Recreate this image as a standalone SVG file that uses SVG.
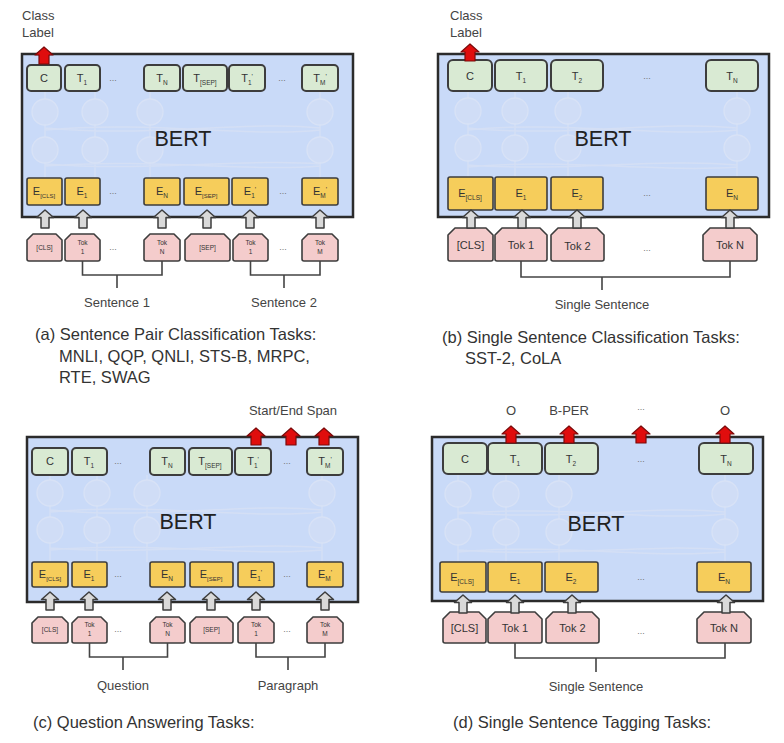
<svg xmlns="http://www.w3.org/2000/svg" xmlns:xlink="http://www.w3.org/1999/xlink" width="784" height="743" viewBox="0 0 784 743">
<style>
text{font-family:"Liberation Sans",Arial,sans-serif;fill:#333}
.bert{fill:#c9daf8;stroke:#2b2b2b;stroke-width:2.5}
.t{fill:#d9ead3;stroke:#3d3d3d;stroke-width:2}
.e{fill:#f6cd5b;stroke:#3d3d3d;stroke-width:1.6}
.k{fill:#f4cccc;stroke:#3d3d3d;stroke-width:1.6;stroke-linejoin:round}
.lbl{font-size:11px;text-anchor:middle}
.sm{font-size:6.5px;text-anchor:middle}
.dots{font-size:9px;text-anchor:middle;fill:#777}
.bt{font-size:21.5px;text-anchor:middle;fill:#222}
.cap{font-size:16.5px;fill:#333}
.note{font-size:13px;fill:#444}
.mid{text-anchor:middle}
.br{fill:none;stroke:#444;stroke-width:1.6}
.net{fill:#d0ddf6;stroke:#d8e2f6;stroke-width:1.3}
.nl{fill:none;stroke:#d4dff5;stroke-width:1.5}
</style>
<defs>
<path id="ga" d="M0,0 L8.5,7.5 L4,7.5 L4,18 L-4,18 L-4,7.5 L-8.5,7.5 Z" fill="#d9d9d9" stroke="#3d3d3d" stroke-width="1.5" stroke-linejoin="round"/>
<path id="ra" d="M0,0 L9,8 L5,8 L5,17 L-5,17 L-5,8 L-9,8 Z" fill="#e00d0d" stroke="#7a0a0a" stroke-width="1.2" stroke-linejoin="round"/>
</defs>

<!-- ================= Panel (a) ================= -->
<g id="a-bert">
<rect class="bert" x="22" y="54" width="331" height="163"/>
<g>
<path class="nl" d="M45,91 V178 M95,91 V178 M150,91 V178 M320,91 V178 M45,128 C150,138 250,120 320,128 M45,130 C150,120 250,138 320,130 M45,164 C150,172 250,158 320,164 M45,166 C150,158 250,172 320,166"/>
<circle class="net" cx="45" cy="112" r="13"/><circle class="net" cx="95" cy="112" r="13"/><circle class="net" cx="150" cy="112" r="13"/><circle class="net" cx="320" cy="112" r="13"/>
<circle class="net" cx="45" cy="150" r="13"/><circle class="net" cx="95" cy="150" r="13"/><circle class="net" cx="150" cy="150" r="13"/><circle class="net" cx="320" cy="150" r="13"/>
</g>
<text class="bt" x="183" y="146">BERT</text>
</g>
<g id="a-C"><rect class="t" x="27" y="65" width="34" height="26" rx="4"/><text class="lbl" x="44" y="82">C</text></g>
<g id="a-T1"><rect class="t" x="65" y="65" width="35" height="26" rx="4"/><text class="lbl" x="82" y="82">T<tspan font-size="6.5" dy="3">1</tspan></text></g>
<text class="dots" x="113" y="81">...</text>
<g id="a-TN"><rect class="t" x="144" y="65" width="36" height="26" rx="4"/><text class="lbl" x="162" y="82">T<tspan font-size="6.5" dy="3">N</tspan></text></g>
<g id="a-TSEP"><rect class="t" x="183" y="65" width="44" height="26" rx="4"/><text class="lbl" x="205" y="82">T<tspan font-size="6.5" dy="3">[SEP]</tspan></text></g>
<g id="a-T1p"><rect class="t" x="229" y="65" width="36" height="26" rx="4"/><text class="lbl" x="247" y="82">T<tspan font-size="6.5" dy="3">1</tspan><tspan font-size="7" dy="-6">'</tspan></text></g>
<text class="dots" x="282" y="81">...</text>
<g id="a-TMp"><rect class="t" x="302" y="65" width="36" height="26" rx="4"/><text class="lbl" x="320" y="82">T<tspan font-size="6.5" dy="3">M</tspan><tspan font-size="7" dy="-6">'</tspan></text></g>

<g id="a-ECLS"><rect class="e" x="27" y="178" width="35" height="27" rx="2"/><text class="lbl" x="44" y="195">E<tspan font-size="6" dy="3">[CLS]</tspan></text></g>
<g id="a-E1"><rect class="e" x="65" y="178" width="35" height="27" rx="2"/><text class="lbl" x="82" y="195">E<tspan font-size="6.5" dy="3">1</tspan></text></g>
<text class="dots" x="113" y="194">...</text>
<g id="a-EN"><rect class="e" x="144" y="178" width="36" height="27" rx="2"/><text class="lbl" x="162" y="195">E<tspan font-size="6.5" dy="3">N</tspan></text></g>
<g id="a-ESEP"><rect class="e" x="184" y="178" width="45" height="27" rx="2"/><text class="lbl" x="206" y="195">E<tspan font-size="6" dy="3">[SEP]</tspan></text></g>
<g id="a-E1p"><rect class="e" x="232" y="178" width="36" height="27" rx="2"/><text class="lbl" x="250" y="195">E<tspan font-size="6.5" dy="3">1</tspan><tspan font-size="7" dy="-6">'</tspan></text></g>
<text class="dots" x="283" y="194">...</text>
<g id="a-EMp"><rect class="e" x="302" y="178" width="36" height="27" rx="2"/><text class="lbl" x="320" y="195">E<tspan font-size="6.5" dy="3">M</tspan><tspan font-size="7" dy="-6">'</tspan></text></g>

<g id="a-kCLS"><path class="k" d="M27,240 L33,234 H56 L62,240 V259 Q62,261 60,261 H29 Q27,261 27,259 Z"/><text class="sm" x="44.5" y="250">[CLS]</text></g>
<g id="a-k1"><path class="k" d="M65,240 L71,234 H94 L100,240 V259 Q100,261 98,261 H67 Q65,261 65,259 Z"/><text class="sm" x="82.5" y="245">Tok</text><text class="sm" x="82.5" y="254">1</text></g>
<text class="dots" x="113" y="250">...</text>
<g id="a-kN"><path class="k" d="M144,240 L150,234 H174 L180,240 V259 Q180,261 178,261 H146 Q144,261 144,259 Z"/><text class="sm" x="162" y="245">Tok</text><text class="sm" x="162" y="254">N</text></g>
<g id="a-kSEP"><path class="k" d="M185,240 L191,234 H224 L230,240 V259 Q230,261 228,261 H187 Q185,261 185,259 Z"/><text class="sm" x="207.5" y="250">[SEP]</text></g>
<g id="a-k1p"><path class="k" d="M233,240 L239,234 H262 L268,240 V259 Q268,261 266,261 H235 Q233,261 233,259 Z"/><text class="sm" x="250.5" y="245">Tok</text><text class="sm" x="250.5" y="254">1</text></g>
<text class="dots" x="283" y="250">...</text>
<g id="a-kM"><path class="k" d="M302,240 L308,234 H332 L338,240 V259 Q338,261 336,261 H304 Q302,261 302,259 Z"/><text class="sm" x="320" y="245">Tok</text><text class="sm" x="320" y="254">M</text></g>

<g id="a-labels">
<text class="note" x="22" y="20">Class</text>
<text class="note" x="22" y="37">Label</text>
<text class="note mid" x="117" y="307">Sentence 1</text>
<text class="note mid" x="284" y="307">Sentence 2</text>
<text class="cap" x="35" y="340">(a) Sentence Pair Classification Tasks:</text>
<text class="cap" x="59" y="362">MNLI, QQP, QNLI, STS-B, MRPC,</text>
<text class="cap" x="59" y="383">RTE, SWAG</text>
</g>

<!-- ================= Panel (b) ================= -->
<g id="b-bert">
<rect class="bert" x="438" y="54" width="331" height="163"/>
<g>
<path class="nl" d="M468,91 V177 M515,91 V177 M568,91 V177 M737,91 V177 M468,128 C560,138 660,120 737,128 M468,130 C560,120 660,138 737,130 M468,165 C560,172 660,158 737,165 M468,167 C560,158 660,173 737,167"/>
<circle class="net" cx="468" cy="111" r="13"/><circle class="net" cx="515" cy="111" r="13"/><circle class="net" cx="568" cy="111" r="13"/><circle class="net" cx="737" cy="111" r="13"/>
<circle class="net" cx="468" cy="148" r="13"/><circle class="net" cx="515" cy="148" r="13"/><circle class="net" cx="568" cy="148" r="13"/><circle class="net" cx="737" cy="148" r="13"/>
</g>
<text class="bt" x="603" y="146">BERT</text>
</g>
<g id="b-C"><rect class="t" x="448" y="60" width="44" height="31" rx="5"/><text class="lbl" x="470" y="80">C</text></g>
<g id="b-T1"><rect class="t" x="495" y="60" width="52" height="31" rx="5"/><text class="lbl" x="521" y="80">T<tspan font-size="6.5" dy="3">1</tspan></text></g>
<g id="b-T2"><rect class="t" x="551" y="60" width="52" height="31" rx="5"/><text class="lbl" x="577" y="80">T<tspan font-size="6.5" dy="3">2</tspan></text></g>
<text class="dots" x="647" y="79">...</text>
<g id="b-TN"><rect class="t" x="706" y="60" width="52" height="31" rx="5"/><text class="lbl" x="732" y="80">T<tspan font-size="6.5" dy="3">N</tspan></text></g>

<g id="b-ECLS"><rect class="e" x="448" y="177" width="45" height="33" rx="2"/><text class="lbl" x="470" y="197">E<tspan font-size="6.5" dy="3">[CLS]</tspan></text></g>
<g id="b-E1"><rect class="e" x="495" y="177" width="52" height="33" rx="2"/><text class="lbl" x="521" y="197">E<tspan font-size="6.5" dy="3">1</tspan></text></g>
<g id="b-E2"><rect class="e" x="551" y="177" width="52" height="33" rx="2"/><text class="lbl" x="577" y="197">E<tspan font-size="6.5" dy="3">2</tspan></text></g>
<text class="dots" x="647" y="196">...</text>
<g id="b-EN"><rect class="e" x="706" y="177" width="52" height="33" rx="2"/><text class="lbl" x="732" y="197">E<tspan font-size="6.5" dy="3">N</tspan></text></g>

<g id="b-kCLS"><path class="k" d="M448,235 L455,228 H486 L493,235 V259 Q493,261 491,261 H450 Q448,261 448,259 Z"/><text class="lbl" x="470.5" y="249" font-size="10">[CLS]</text></g>
<g id="b-k1"><path class="k" d="M495,235 L502,228 H540 L547,235 V259 Q547,261 545,261 H497 Q495,261 495,259 Z"/><text class="lbl" x="521" y="249">Tok 1</text></g>
<g id="b-k2"><path class="k" d="M551,235 L558,228 H597 L604,235 V259 Q604,261 602,261 H553 Q551,261 551,259 Z"/><text class="lbl" x="577.5" y="250">Tok 2</text></g>
<text class="dots" x="647" y="251">...</text>
<g id="b-kN"><path class="k" d="M703,235 L710,228 H750 L757,235 V259 Q757,261 755,261 H705 Q703,261 703,259 Z"/><text class="lbl" x="730" y="249">Tok N</text></g>

<g id="b-labels">
<text class="note" x="450" y="20">Class</text>
<text class="note" x="450" y="37">Label</text>
<text class="note mid" x="602" y="309">Single Sentence</text>
<text class="cap" x="442" y="343">(b) Single Sentence Classification Tasks:</text>
<text class="cap" x="465" y="364">SST-2, CoLA</text>
</g>

<!-- ================= Panel (c) ================= -->
<g id="c-bert">
<rect class="bert" x="27" y="437" width="331" height="165"/>
<g>
<path class="nl" d="M50,475 V562 M97,475 V562 M147,475 V562 M322,475 V562 M50,510 C150,520 250,502 322,510 M50,512 C150,502 250,520 322,512 M50,548 C150,556 250,541 322,548 M50,550 C150,541 250,557 322,550"/>
<circle class="net" cx="50" cy="493" r="13"/><circle class="net" cx="97" cy="493" r="13"/><circle class="net" cx="147" cy="493" r="13"/><circle class="net" cx="322" cy="493" r="13"/>
<circle class="net" cx="50" cy="530" r="13"/><circle class="net" cx="97" cy="530" r="13"/><circle class="net" cx="147" cy="530" r="13"/><circle class="net" cx="322" cy="530" r="13"/>
</g>
<text class="bt" x="188" y="529">BERT</text>
</g>
<g id="c-C"><rect class="t" x="32" y="448" width="36" height="27" rx="4"/><text class="lbl" x="50" y="465">C</text></g>
<g id="c-T1"><rect class="t" x="72" y="448" width="35" height="27" rx="4"/><text class="lbl" x="89" y="465">T<tspan font-size="6.5" dy="3">1</tspan></text></g>
<text class="dots" x="118" y="464">...</text>
<g id="c-TN"><rect class="t" x="150" y="448" width="35" height="27" rx="4"/><text class="lbl" x="167" y="465">T<tspan font-size="6.5" dy="3">N</tspan></text></g>
<g id="c-TSEP"><rect class="t" x="189" y="448" width="43" height="27" rx="4"/><text class="lbl" x="210" y="465">T<tspan font-size="6.5" dy="3">[SEP]</tspan></text></g>
<g id="c-T1p"><rect class="t" x="235" y="448" width="36" height="27" rx="4"/><text class="lbl" x="253" y="465">T<tspan font-size="6.5" dy="3">1</tspan><tspan font-size="7" dy="-6">'</tspan></text></g>
<text class="dots" x="287" y="464">...</text>
<g id="c-TMp"><rect class="t" x="307" y="448" width="36" height="27" rx="4"/><text class="lbl" x="325" y="465">T<tspan font-size="6.5" dy="3">M</tspan><tspan font-size="7" dy="-6">'</tspan></text></g>

<g id="c-ECLS"><rect class="e" x="32" y="562" width="36" height="25" rx="2"/><text class="lbl" x="50" y="578">E<tspan font-size="6" dy="3">[CLS]</tspan></text></g>
<g id="c-E1"><rect class="e" x="72" y="562" width="35" height="25" rx="2"/><text class="lbl" x="89" y="578">E<tspan font-size="6.5" dy="3">1</tspan></text></g>
<text class="dots" x="118" y="577">...</text>
<g id="c-EN"><rect class="e" x="150" y="562" width="35" height="25" rx="2"/><text class="lbl" x="167" y="578">E<tspan font-size="6.5" dy="3">N</tspan></text></g>
<g id="c-ESEP"><rect class="e" x="190" y="562" width="43" height="25" rx="2"/><text class="lbl" x="211" y="578">E<tspan font-size="6" dy="3">[SEP]</tspan></text></g>
<g id="c-E1p"><rect class="e" x="238" y="562" width="36" height="25" rx="2"/><text class="lbl" x="256" y="578">E<tspan font-size="6.5" dy="3">1</tspan><tspan font-size="7" dy="-6">'</tspan></text></g>
<text class="dots" x="287" y="577">...</text>
<g id="c-EMp"><rect class="e" x="307" y="562" width="36" height="25" rx="2"/><text class="lbl" x="325" y="578">E<tspan font-size="6.5" dy="3">M</tspan><tspan font-size="7" dy="-6">'</tspan></text></g>

<g id="c-kCLS"><path class="k" d="M32,623 L38,617 H62 L68,623 V641 Q68,643 66,643 H34 Q32,643 32,641 Z"/><text class="sm" x="50" y="632">[CLS]</text></g>
<g id="c-k1"><path class="k" d="M72,623 L78,617 H101 L107,623 V641 Q107,643 105,643 H74 Q72,643 72,641 Z"/><text class="sm" x="89.5" y="627">Tok</text><text class="sm" x="89.5" y="636">1</text></g>
<text class="dots" x="118" y="632">...</text>
<g id="c-kN"><path class="k" d="M150,623 L156,617 H179 L185,623 V641 Q185,643 183,643 H152 Q150,643 150,641 Z"/><text class="sm" x="167.5" y="627">Tok</text><text class="sm" x="167.5" y="636">N</text></g>
<g id="c-kSEP"><path class="k" d="M190,623 L196,617 H227 L233,623 V641 Q233,643 231,643 H192 Q190,643 190,641 Z"/><text class="sm" x="211.5" y="632">[SEP]</text></g>
<g id="c-k1p"><path class="k" d="M238,623 L244,617 H268 L274,623 V641 Q274,643 272,643 H240 Q238,643 238,641 Z"/><text class="sm" x="256" y="627">Tok</text><text class="sm" x="256" y="636">1</text></g>
<text class="dots" x="287" y="632">...</text>
<g id="c-kM"><path class="k" d="M307,623 L313,617 H337 L343,623 V641 Q343,643 341,643 H309 Q307,643 307,641 Z"/><text class="sm" x="325" y="627">Tok</text><text class="sm" x="325" y="636">M</text></g>

<g id="c-labels">
<text class="note mid" x="293" y="415">Start/End Span</text>
<text class="note mid" x="123" y="690">Question</text>
<text class="note mid" x="288" y="690">Paragraph</text>
<text class="cap" x="33" y="728">(c) Question Answering Tasks:</text>
</g>

<!-- ================= Panel (d) ================= -->
<g id="d-bert">
<rect class="bert" x="432" y="437" width="331" height="164"/>
<g>
<path class="nl" d="M458,474 V562 M506,474 V562 M559,474 V562 M725,474 V562 M458,512 C560,522 650,504 725,512 M458,514 C560,504 650,522 725,514 M458,550 C560,558 650,543 725,550 M458,552 C560,543 650,559 725,552"/>
<circle class="net" cx="458" cy="494" r="13"/><circle class="net" cx="506" cy="494" r="13"/><circle class="net" cx="559" cy="494" r="13"/><circle class="net" cx="725" cy="494" r="13"/>
<circle class="net" cx="458" cy="532" r="13"/><circle class="net" cx="506" cy="532" r="13"/><circle class="net" cx="559" cy="532" r="13"/><circle class="net" cx="725" cy="532" r="13"/>
</g>
<text class="bt" x="596" y="531">BERT</text>
</g>
<g id="d-C"><rect class="t" x="443" y="443" width="44" height="31" rx="5"/><text class="lbl" x="465" y="463">C</text></g>
<g id="d-T1"><rect class="t" x="488" y="443" width="54" height="31" rx="5"/><text class="lbl" x="515" y="463">T<tspan font-size="6.5" dy="3">1</tspan></text></g>
<g id="d-T2"><rect class="t" x="545" y="443" width="53" height="31" rx="5"/><text class="lbl" x="571" y="463">T<tspan font-size="6.5" dy="3">2</tspan></text></g>
<text class="dots" x="641" y="462">...</text>
<g id="d-TN"><rect class="t" x="699" y="443" width="54" height="31" rx="5"/><text class="lbl" x="726" y="463">T<tspan font-size="6.5" dy="3">N</tspan></text></g>

<g id="d-ECLS"><rect class="e" x="440" y="562" width="46" height="30" rx="2"/><text class="lbl" x="462" y="581">E<tspan font-size="6.5" dy="3">[CLS]</tspan></text></g>
<g id="d-E1"><rect class="e" x="488" y="562" width="54" height="30" rx="2"/><text class="lbl" x="515" y="581">E<tspan font-size="6.5" dy="3">1</tspan></text></g>
<g id="d-E2"><rect class="e" x="545" y="562" width="53" height="30" rx="2"/><text class="lbl" x="571" y="581">E<tspan font-size="6.5" dy="3">2</tspan></text></g>
<text class="dots" x="641" y="580">...</text>
<g id="d-EN"><rect class="e" x="697" y="562" width="54" height="30" rx="2"/><text class="lbl" x="724" y="581">E<tspan font-size="6.5" dy="3">N</tspan></text></g>

<g id="d-kCLS"><path class="k" d="M443,619 L450,612 H479 L486,619 V641 Q486,643 484,643 H445 Q443,643 443,641 Z"/><text class="lbl" x="464.5" y="632" font-size="10">[CLS]</text></g>
<g id="d-k1"><path class="k" d="M488,619 L495,612 H535 L542,619 V641 Q542,643 540,643 H490 Q488,643 488,641 Z"/><text class="lbl" x="515" y="632">Tok 1</text></g>
<g id="d-k2"><path class="k" d="M546,619 L553,612 H592 L599,619 V641 Q599,643 597,643 H548 Q546,643 546,641 Z"/><text class="lbl" x="572.5" y="632">Tok 2</text></g>
<text class="dots" x="641" y="634">...</text>
<g id="d-kN"><path class="k" d="M697,619 L704,612 H744 L751,619 V641 Q751,643 749,643 H699 Q697,643 697,641 Z"/><text class="lbl" x="724" y="632">Tok N</text></g>

<g id="d-labels">
<text class="note mid" x="511" y="415">O</text>
<text class="note mid" x="569" y="415">B-PER</text>
<text class="dots" x="641" y="410">...</text>
<text class="note mid" x="725" y="415">O</text>
<text class="note mid" x="596" y="691">Single Sentence</text>
<text class="cap" x="453" y="728">(d) Single Sentence Tagging Tasks:</text>
</g>

<!-- ================= Connectors ================= -->
<g id="connectors">
<!-- panel a -->
<use href="#ra" x="44" y="47"/>
<use href="#ga" x="45" y="210"/><use href="#ga" x="83" y="210"/><use href="#ga" x="162" y="210"/><use href="#ga" x="207" y="210"/><use href="#ga" x="250" y="210"/><use href="#ga" x="320" y="210"/>
<path class="br" d="M82.5,261 V275 H162 V261 M117,275 V288"/>
<path class="br" d="M250.5,261 V275 H320 V261 M284,275 V288"/>
<!-- panel b -->
<use href="#ra" x="470" y="44"/>
<use href="#ga" x="471" y="210"/><use href="#ga" x="522" y="210"/><use href="#ga" x="577" y="210"/><use href="#ga" x="730" y="210"/>
<path class="br" d="M521,261 V277 H730 V261 M602,277 V290"/>
<!-- panel c -->
<use href="#ra" x="256" y="428"/><use href="#ra" x="291" y="428"/><use href="#ra" x="324" y="428"/>
<use href="#ga" x="50" y="592"/><use href="#ga" x="89" y="592"/><use href="#ga" x="167" y="592"/><use href="#ga" x="211" y="592"/><use href="#ga" x="256" y="592"/><use href="#ga" x="325" y="592"/>
<path class="br" d="M89.5,643 V657 H167.5 V643 M123,657 V670"/>
<path class="br" d="M256,643 V657 H325 V643 M288,657 V670"/>
<!-- panel d -->
<use href="#ra" x="511" y="426"/><use href="#ra" x="569" y="426"/><use href="#ra" x="641" y="426"/><use href="#ra" x="725" y="426"/>
<use href="#ga" x="463" y="595"/><use href="#ga" x="515" y="595"/><use href="#ga" x="572" y="595"/><use href="#ga" x="726" y="595"/>
<path class="br" d="M515,643 V658 H725 V643 M596,658 V672"/>
</g>
</svg>
